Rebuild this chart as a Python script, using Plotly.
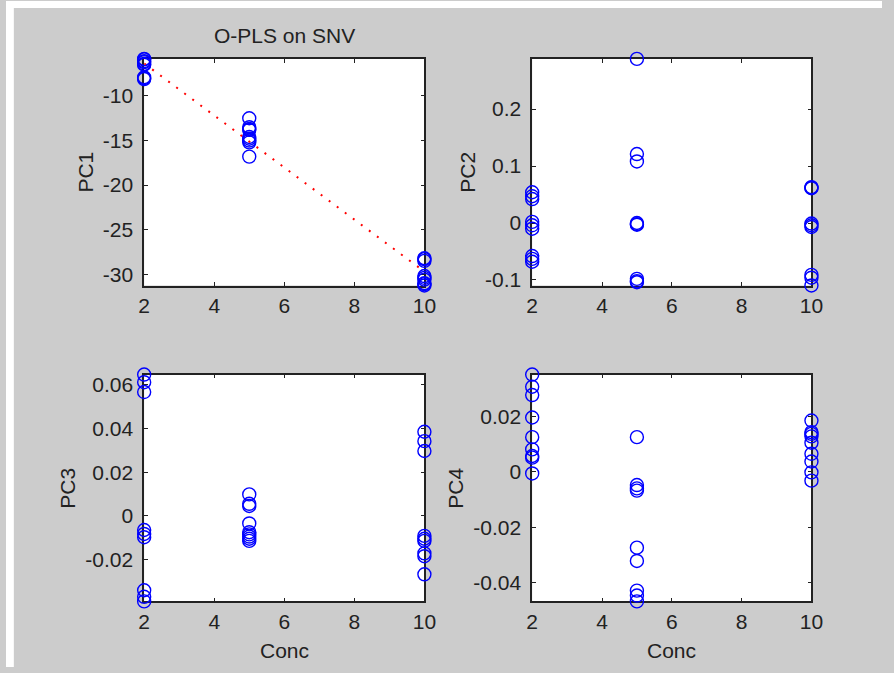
import numpy as np
import plotly.graph_objects as go

# Concentration of each of the 27 samples (9 replicates per level)
conc = [2, 2, 2, 2, 2, 2, 2, 2, 2,
        5, 5, 5, 5, 5, 5, 5, 5, 5,
        10, 10, 10, 10, 10, 10, 10, 10, 10]

# Component scores for each sample
pc1 = [-5.84, -5.9, -6.1, -6.2, -6.4, -6.5, -7.9, -8.0, -8.1,
       -12.5, -13.5, -13.7, -13.8, -14.6, -14.8, -15.0, -15.2, -16.8,
       -28.2, -28.3, -28.5, -30.2, -30.4, -30.6, -31.0, -31.1, -31.26]
pc2 = [0.054, 0.047, 0.042, 0.002, -0.004, -0.010, -0.058, -0.063, -0.068,
       0.288, 0.121, 0.108, 0.000, -0.002, -0.003, -0.098, -0.102, -0.104,
       0.063, 0.062, 0.061, -0.001, -0.004, -0.007, -0.091, -0.096, -0.1097]
pc3 = [0.0647, 0.0612, 0.0567, -0.0065, -0.0083, -0.0098, -0.0341, -0.0371, -0.0392,
       0.0098, 0.0055, 0.0045, -0.0035, -0.0075, -0.0085, -0.0095, -0.0105, -0.0115,
       0.0385, 0.0342, 0.0297, -0.0092, -0.0105, -0.0115, -0.0172, -0.0185, -0.0268]
pc4 = [0.0351, 0.0307, 0.0277, 0.0196, 0.0125, 0.0081, 0.0057, 0.0051, -0.0006,
       0.0125, -0.0048, -0.0060, -0.0068, -0.0274, -0.0322, -0.0429, -0.0447, -0.0468,
       0.0185, 0.0143, 0.0137, 0.0128, 0.0105, 0.0065, 0.0037, -0.0002, -0.0032]

x_ticks = [2, 4, 6, 8, 10]
x_tick_labels = ["2", "4", "6", "8", "10"]
pc1_ticks = [-30, -25, -20, -15, -10]
pc1_tick_labels = ["-30", "-25", "-20", "-15", "-10"]
pc2_ticks = [-0.1, 0, 0.1, 0.2]
pc2_tick_labels = ["-0.1", "0", "0.1", "0.2"]
pc3_ticks = [-0.02, 0, 0.02, 0.04, 0.06]
pc3_tick_labels = ["-0.02", "0", "0.02", "0.04", "0.06"]
pc4_ticks = [-0.04, -0.02, 0, 0.02]
pc4_tick_labels = ["-0.04", "-0.02", "0", "0.02"]

title_text = "O-PLS on SNV"
x_label = "Conc"
y_labels = ["PC1", "PC2", "PC3", "PC4"]

W, H = 894, 673
BG = "#cccccc"
FONT = "Liberation Sans, Arial, sans-serif"
AX = "#222222"
FS = 21

# Axes boxes in pixels: (left, right, top, bottom)
boxes = [(141, 427, 58.5, 287.5), (537, 822, 58.5, 287.5),
         (141, 427, 377.5, 606.7), (537, 822, 377.5, 606.7)]

fig = go.Figure()

scores = [pc1, pc2, pc3, pc4]
yticks = [(pc1_ticks, pc1_tick_labels), (pc2_ticks, pc2_tick_labels),
          (pc3_ticks, pc3_tick_labels), (pc4_ticks, pc4_tick_labels)]

for i, (vals, (tv, tt), (l, r, t, b)) in enumerate(zip(scores, yticks, boxes)):
    n = "" if i == 0 else str(i + 1)
    fig.add_trace(go.Scatter(
        x=conc, y=vals, mode="markers", xaxis="x" + n, yaxis="y" + n,
        marker=dict(symbol="circle-open", size=13, color="#0000ff",
                    line=dict(width=1.4, color="#0000ff")),
        cliponaxis=False, showlegend=False, hoverinfo="x+y"))
    axis_common = dict(showline=True, linecolor=AX, linewidth=1.5, mirror="ticks",
                       ticks="inside", ticklen=4, tickwidth=1.2, tickcolor=AX,
                       showgrid=False, zeroline=False, layer="below traces",
                       tickfont=dict(family=FONT, size=FS, color=AX))
    fig.layout["xaxis" + n] = dict(
        domain=[l / W, r / W], anchor="y" + n, range=[min(conc), max(conc)],
        tickmode="array", tickvals=x_ticks, ticktext=x_tick_labels,
        ticklabelstandoff=1, **axis_common)
    fig.layout["yaxis" + n] = dict(
        domain=[1 - b / H, 1 - t / H], anchor="x" + n,
        range=[min(vals), max(vals)],
        tickmode="array", tickvals=tv, ticktext=tt,
        ticklabelstandoff=5, **axis_common)

# Least-squares fit of PC1 against concentration
slope, intercept = np.polyfit(conc, pc1, 1)
fit_x = np.array([min(conc), max(conc)], dtype=float)
fig.add_trace(go.Scatter(
    x=fit_x, y=slope * fit_x + intercept, mode="lines", xaxis="x", yaxis="y",
    line=dict(color="#ff0000", width=2, dash="2px,8px"),
    showlegend=False, hoverinfo="skip"))

annotations = [dict(text=title_text, x=284 / W, y=1 - 35 / H, xref="paper", yref="paper",
                    xanchor="center", yanchor="middle", showarrow=False,
                    font=dict(family=FONT, size=FS, color=AX))]
label_x = [81, 471, 63, 459]
for lab, lx, (l, r, t, b) in zip(y_labels, label_x, boxes):
    annotations.append(dict(text=lab, x=lx / W, y=1 - (t + b) / 2 / H,
                            xref="paper", yref="paper", textangle=-90,
                            xanchor="center", yanchor="middle", showarrow=False,
                            font=dict(family=FONT, size=FS, color=AX)))
for (l, r, t, b) in boxes[2:]:
    annotations.append(dict(text=x_label, x=(l + r) / 2 / W, y=1 - 656 / H,
                            xref="paper", yref="paper", xanchor="center",
                            yanchor="middle", showarrow=False,
                            font=dict(family=FONT, size=FS, color=AX)))

# Thin white border on the left and top edges of the figure window
shapes = [dict(type="rect", xref="paper", yref="paper", x0=0, x1=8 / W, y0=0, y1=1,
               fillcolor="white", line=dict(width=0), layer="above"),
          dict(type="rect", xref="paper", yref="paper", x0=0, x1=1, y0=1 - 7 / H, y1=1,
               fillcolor="white", line=dict(width=0), layer="above")]

fig.update_layout(width=W, height=H, margin=dict(l=0, r=0, t=0, b=0),
                  paper_bgcolor=BG, plot_bgcolor="white",
                  annotations=annotations, shapes=shapes,
                  font=dict(family=FONT, size=FS, color=AX))

fig.write_html("out.html")
